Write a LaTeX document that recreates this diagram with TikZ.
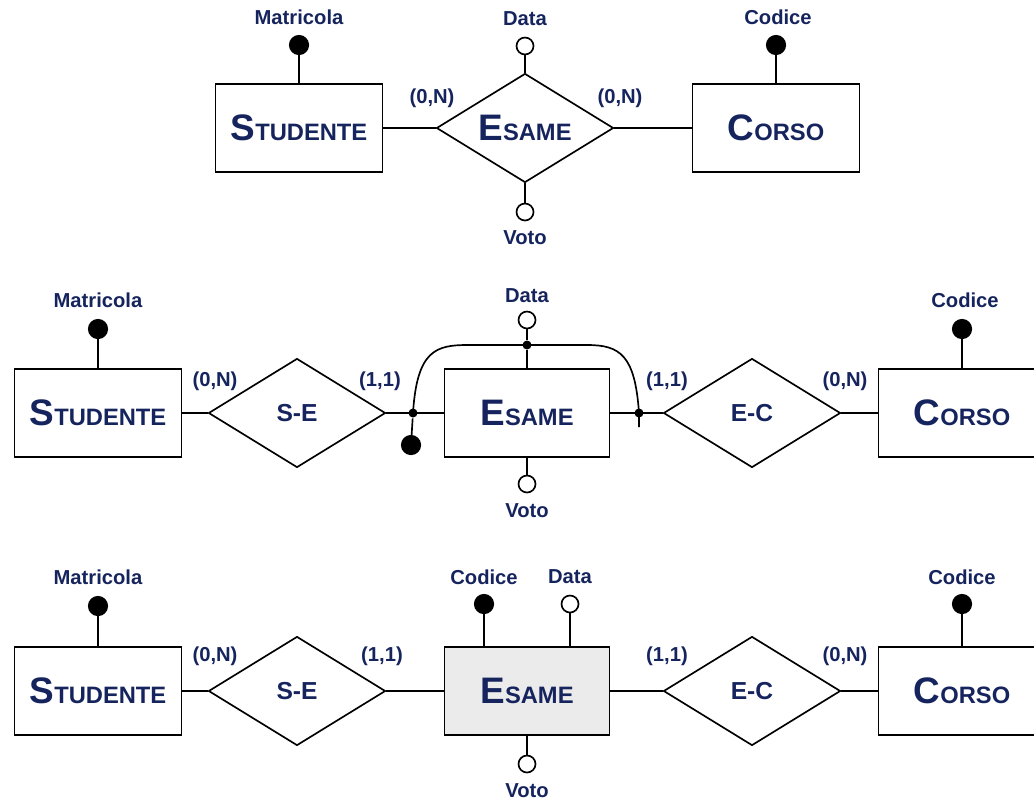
\documentclass[tikz,border=0pt]{standalone}
\usepackage{fontspec}
\setmainfont{Liberation Sans}
\usetikzlibrary{shapes.geometric}
\definecolor{navytext}{HTML}{16245E}
\newcommand{\entname}[2]{{\fontsize{21}{21}\selectfont #1}{\fontsize{13.5}{13.5}\selectfont #2}}

\begin{document}
\begin{tikzpicture}[x=0.02cm, y=-0.02cm, line width=0.95pt,
                entity/.style={rectangle, draw, minimum width=3.34cm, minimum height=1.76cm, font=\bfseries, text=navytext},
                relation/.style={diamond, draw, aspect=1.6, inner sep=1pt, minimum width=3.54cm, minimum height=2.18cm, font=\bfseries\fontsize{14}{14}\selectfont, text=navytext},
                keyattr/.style={circle, draw, fill=black, inner sep=0pt, minimum size=0.37cm},
                attr/.style={circle, draw, fill=white, inner sep=0pt, minimum size=0.34cm},
                junction/.style={circle, fill=black, inner sep=0pt, minimum size=0.18cm},
                lbl/.style={font=\bfseries\fontsize{11.5}{11.5}\selectfont, text=navytext, inner sep=1pt},
                card/.style={font=\bfseries\fontsize{11.5}{11.5}\selectfont, text=navytext, inner sep=1pt}]
                \clip (0,0) rectangle (1034,801);

                % top: esame as relationship
                \node[entity] (stu1) at (299,128) {\entname{S}{TUDENTE}};
                \node[relation] (esa1) at (525,128) {\entname{E}{SAME}};
                \node[entity] (cor1) at (776,128) {\entname{C}{ORSO}};
                \node[keyattr] (matr1) at (299,45) {};
                \node[lbl] (matr1l) at (299,17) {Matricola};
                \node[attr] (data1) at (525,46) {};
                \node[lbl] (data1l) at (525,19) {Data};
                \node[attr] (voto1) at (525,212) {};
                \node[lbl] (voto1l) at (525,238) {Voto};
                \node[keyattr] (cod1) at (776,45) {};
                \node[lbl] (cod1l) at (778,17) {Codice};
                \node[card] (c1a) at (432,98) {(0,N)};
                \node[card] (c1b) at (620,98) {(0,N)};

                \draw (stu1) -- (esa1);
                \draw (esa1) -- (cor1);
                \draw (matr1) -- (stu1);
                \draw (data1) -- (esa1);
                \draw (voto1) -- (esa1);
                \draw (cod1) -- (cor1);

                % middle: weak entity with external identifier
                \node[entity] (stu2) at (98,413) {\entname{S}{TUDENTE}};
                \node[relation] (se2) at (297,413) {S-E};
                \node[entity, minimum width=3.3cm] (esa2) at (527,413) {\entname{E}{SAME}};
                \node[relation] (ec2) at (752,413) {E-C};
                \node[entity] (cor2) at (962,413) {\entname{C}{ORSO}};
                \node[keyattr] (matr2) at (98,329) {};
                \node[lbl] (matr2l) at (98,300) {Matricola};
                \node[attr] (data2) at (527,320) {};
                \node[lbl] (data2l) at (527,296) {Data};
                \node[attr] (voto2) at (527,484) {};
                \node[lbl] (voto2l) at (527,511) {Voto};
                \node[keyattr] (cod2) at (962,329) {};
                \node[lbl] (cod2l) at (965,300) {Codice};
                \node[card] (c2a) at (215,381) {(0,N)};
                \node[card] (c2b) at (380,381) {(1,1)};
                \node[card] (c2c) at (667,381) {(1,1)};
                \node[card] (c2d) at (845,381) {(0,N)};
                \node[junction] (jl2) at (413,413) {};
                \node[junction] (jt2) at (527,345) {};
                \node[junction] (jr2) at (639,413) {};
                \node[keyattr] (ext2) at (411,445) {};
                \coordinate (jtail2) at (639,427);

                \draw (stu2) -- (se2);
                \draw (se2) -- (esa2);
                \draw (esa2) -- (ec2);
                \draw (ec2) -- (cor2);
                \draw (matr2) -- (stu2);
                \draw (cod2) -- (cor2);
                \draw (data2) -- (jt2);
                \draw (jt2) -- (esa2);
                \draw (voto2) -- (esa2);
                \draw (jl2) -- (ext2);
                \draw (jl2.center) .. controls (417,350) and (436,345) .. (468,345) -- (587,345)
                      .. controls (620,345) and (635,355) .. (jr2.center) -- (jtail2);

                % bottom: esame as entity
                \node[entity] (stu3) at (98,691) {\entname{S}{TUDENTE}};
                \node[relation] (se3) at (297,691) {S-E};
                \node[entity, minimum width=3.3cm, fill=black!8] (esa3) at (527,691) {\entname{E}{SAME}};
                \node[relation] (ec3) at (752,691) {E-C};
                \node[entity] (cor3) at (962,691) {\entname{C}{ORSO}};
                \node[keyattr] (matr3) at (98,606) {};
                \node[lbl] (matr3l) at (98,577) {Matricola};
                \node[keyattr] (code3) at (484,604) {};
                \node[lbl] (code3l) at (484,577) {Codice};
                \node[attr] (data3) at (570,604) {};
                \node[lbl] (data3l) at (570,577) {Data};
                \node[attr] (voto3) at (527,764) {};
                \node[lbl] (voto3l) at (527,791) {Voto};
                \node[keyattr] (cod3) at (962,604) {};
                \node[lbl] (cod3l) at (962,577) {Codice};
                \node[card] (c3a) at (215,656) {(0,N)};
                \node[card] (c3b) at (382,656) {(1,1)};
                \node[card] (c3c) at (667,656) {(1,1)};
                \node[card] (c3d) at (845,656) {(0,N)};

                \draw (stu3) -- (se3);
                \draw (se3) -- (esa3);
                \draw (esa3) -- (ec3);
                \draw (ec3) -- (cor3);
                \draw (matr3) -- (stu3);
                \draw (code3) -- (code3 |- esa3.north);
                \draw (data3) -- (data3 |- esa3.north);
                \draw (voto3) -- (esa3);
                \draw (cod3) -- (cor3);
            \end{tikzpicture}
\end{document}
